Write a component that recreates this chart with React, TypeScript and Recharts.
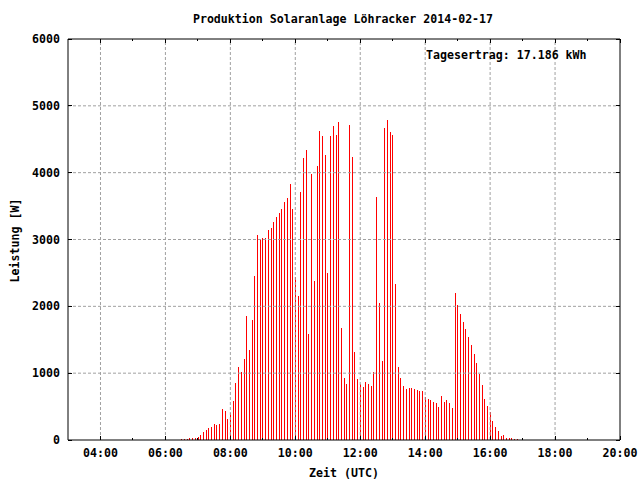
import React from 'react';
import { ComposedChart, Bar, XAxis, YAxis, ReferenceLine, Legend } from 'recharts';

const FONT = '"DejaVu Sans Mono", "Liberation Mono", monospace';
const FONT_SIZE = 11.6;

const chartTitle = 'Produktion Solaranlage Löhracker 2014-02-17';
const yieldLabel = 'Tagesertrag: 17.186 kWh';
const xAxisTitle = 'Zeit (UTC)';
const yAxisTitle = 'Leistung [W]';

const sampleTimes = [
  '06:30', '06:35', '06:40', '06:45', '06:50', '06:55',
  '07:00', '07:05', '07:10', '07:15', '07:20', '07:25', '07:30', '07:35', '07:40', '07:45', '07:50', '07:55',
  '08:00', '08:05', '08:10', '08:15', '08:20', '08:25', '08:30', '08:35', '08:40', '08:45', '08:50', '08:55',
  '09:00', '09:05', '09:10', '09:15', '09:20', '09:25', '09:30', '09:35', '09:40', '09:45', '09:50', '09:55',
  '10:00', '10:05', '10:10', '10:15', '10:20', '10:25', '10:30', '10:35', '10:40', '10:45', '10:50', '10:55',
  '11:00', '11:05', '11:10', '11:15', '11:20', '11:25', '11:30', '11:35', '11:40', '11:45', '11:50', '11:55',
  '12:00', '12:05', '12:10', '12:15', '12:20', '12:25', '12:30', '12:35', '12:40', '12:45', '12:50', '12:55',
  '13:00', '13:05', '13:10', '13:15', '13:20', '13:25', '13:30', '13:35', '13:40', '13:45', '13:50', '13:55',
  '14:00', '14:05', '14:10', '14:15', '14:20', '14:25', '14:30', '14:35', '14:40', '14:45', '14:50', '14:55',
  '15:00', '15:05', '15:10', '15:15', '15:20', '15:25', '15:30', '15:35', '15:40', '15:45', '15:50', '15:55',
  '16:00', '16:05', '16:10', '16:15', '16:20', '16:25', '16:30', '16:35', '16:40', '16:45', '16:50',
];

const powerW = [
  20, 20, 20, 30, 30, 30,
  45, 75, 120, 150, 180, 195, 240, 225, 240, 465, 435, 315,
  405, 585, 855, 1095, 1020, 1215, 1860, 1350, 1800, 2460, 3060, 3000,
  3015, 3015, 3135, 3165, 3255, 3330, 3390, 3450, 3555, 3615, 3825, 3450,
  2445, 2160, 3705, 4215, 4335, 1590, 3975, 2385, 4095, 4620, 4545, 4260,
  2505, 4545, 4695, 4560, 4755, 1680, 930, 840, 4710, 4230, 1320, 915,
  840, 795, 870, 840, 810, 1020, 3630, 2055, 1185, 4665, 4785, 4605,
  4560, 2340, 1095, 930, 810, 765, 780, 780, 765, 750, 735, 735,
  645, 615, 600, 570, 555, 495, 660, 570, 600, 555, 480, 2205,
  2025, 1890, 1770, 1665, 1545, 1425, 1290, 1155, 990, 825, 615, 510,
  420, 285, 195, 135, 60, 75, 30, 30, 30, 15, 15,
];

const hourTicks = [4, 5, 6, 7, 8, 9, 10, 11, 12, 13, 14, 15, 16, 17, 18, 19, 20];
const majorHours = [4, 6, 8, 10, 12, 14, 16, 18, 20];
const gridHours = [4, 6, 8, 10, 12, 14, 16, 18];
const powerTicks = [0, 1000, 2000, 3000, 4000, 5000, 6000];
const gridPowers = [1000, 2000, 3000, 4000, 5000];
const xDomain = [3, 20];
const yDomain = [0, 6000];

const toHours = (t: string) => {
  const [h, m] = t.split(':').map(Number);
  return h + m / 60;
};
const fmtHour = (h: number) => `${String(h).padStart(2, '0')}:00`;

const data = sampleTimes.map((t, i) => ({ hour: toHours(t), power: powerW[i] }));

const textStyle = {
  fontFamily: FONT,
  fontSize: FONT_SIZE,
  fontWeight: 'bold' as const,
  fill: '#000',
};

const BOTTOM_MARGIN = 9;
const LEFT_MARGIN = 8;

const crisp = (v: number) => Math.floor(v) + 0.5;

const BottomTick = (props: any) => {
  const { x, y, payload } = props;
  const major = majorHours.includes(payload.value);
  const axisY = y - BOTTOM_MARGIN;
  const px = crisp(x);
  return (
    <g>
      <line x1={px} x2={px} y1={axisY} y2={axisY - (major ? 4 : 2)} stroke="#000" strokeWidth={1} />
      {major && (
        <text x={x} y={y} dy="0.71em" textAnchor="middle" style={textStyle}>
          {fmtHour(payload.value)}
        </text>
      )}
    </g>
  );
};

const TopTick = (props: any) => {
  const { x, y, payload } = props;
  const major = majorHours.includes(payload.value);
  const px = crisp(x);
  return <line x1={px} x2={px} y1={y} y2={y + (major ? 4 : 2)} stroke="#000" strokeWidth={1} />;
};

const LeftTick = (props: any) => {
  const { x, y, payload } = props;
  const axisX = x + LEFT_MARGIN;
  const py = crisp(y);
  return (
    <g>
      <line x1={axisX} x2={axisX + 4} y1={py} y2={py} stroke="#000" strokeWidth={1} />
      <text x={x} y={y} dy="0.355em" textAnchor="end" style={textStyle}>
        {payload.value}
      </text>
    </g>
  );
};

const RightTick = (props: any) => {
  const { x, y } = props;
  const py = crisp(y);
  return <line x1={x} x2={x - 4} y1={py} y2={py} stroke="#000" strokeWidth={1} />;
};

const Impulse = (props: any) => {
  const { x, y, width, height } = props;
  if (height == null || !(height > 0)) return null;
  const cx = Math.floor(x + width / 2);
  const top = Math.round(y);
  const bottom = Math.round(y + height);
  return <rect x={cx} y={top} width={1} height={Math.max(1, bottom - top)} fill="#ff0000" />;
};

const YLabel = (props: any) => {
  const vb = props.viewBox || { x: 0, y: 39, width: 68, height: 401 };
  const lx = vb.x + 18.5;
  const ly = vb.y + vb.height / 2 + 1;
  return (
    <text x={lx} y={ly} textAnchor="middle" transform={`rotate(-90, ${lx}, ${ly})`} style={textStyle}>
      {yAxisTitle}
    </text>
  );
};

const TitleLabel = (props: any) => {
  const vb = props.viewBox || { x: 68, y: 0, width: 552, height: 39 };
  return (
    <text x={vb.x + vb.width / 2 - 1} y={23} textAnchor="middle" style={textStyle}>
      {chartTitle}
    </text>
  );
};

const KeyContent = () => (
  <div
    style={{
      fontFamily: FONT,
      fontSize: FONT_SIZE,
      fontWeight: 'bold',
      lineHeight: '12px',
      color: '#000',
      whiteSpace: 'nowrap',
    }}
  >
    {yieldLabel}
  </div>
);

export default function App() {
  return (
    <div style={{ position: 'absolute', left: 0, top: 0, width: 640, height: 480, background: '#fff' }}>
      <ComposedChart width={640} height={480} data={data} margin={{ top: 0, right: 0, bottom: 0, left: 0 }}>
        <XAxis
          xAxisId="b"
          dataKey="hour"
          type="number"
          orientation="bottom"
          domain={xDomain}
          ticks={hourTicks}
          interval={0}
          allowDataOverflow
          height={40}
          tickSize={0}
          tickMargin={BOTTOM_MARGIN}
          tick={<BottomTick />}
          axisLine={{ stroke: '#000', strokeWidth: 1 }}
          label={{ value: xAxisTitle, position: 'insideBottom', offset: 3, style: textStyle }}
        />
        <XAxis
          xAxisId="t"
          dataKey="hour"
          type="number"
          orientation="top"
          domain={xDomain}
          ticks={hourTicks}
          interval={0}
          allowDataOverflow
          height={39}
          tickSize={0}
          tickMargin={0}
          tick={<TopTick />}
          axisLine={{ stroke: '#000', strokeWidth: 1 }}
          label={<TitleLabel />}
        />
        <YAxis
          yAxisId="l"
          type="number"
          orientation="left"
          domain={yDomain}
          ticks={powerTicks}
          interval={0}
          allowDataOverflow
          width={68}
          tickSize={0}
          tickMargin={LEFT_MARGIN}
          tick={<LeftTick />}
          axisLine={{ stroke: '#000', strokeWidth: 1 }}
          label={<YLabel />}
        />
        <YAxis
          yAxisId="r"
          dataKey="power"
          type="number"
          orientation="right"
          domain={yDomain}
          ticks={powerTicks}
          interval={0}
          allowDataOverflow
          width={20}
          tickSize={0}
          tickMargin={0}
          tick={<RightTick />}
          axisLine={{ stroke: '#000', strokeWidth: 1 }}
        />
        {gridHours.map((h) => (
          <ReferenceLine
            key={`gx${h}`}
            xAxisId="b"
            yAxisId="l"
            x={h}
            stroke="#a0a0a0"
            strokeDasharray="3 2"
          />
        ))}
        {gridPowers.map((p) => (
          <ReferenceLine
            key={`gy${p}`}
            xAxisId="b"
            yAxisId="l"
            y={p}
            stroke="#a0a0a0"
            strokeDasharray="3 2"
          />
        ))}
        <Bar
          xAxisId="b"
          yAxisId="l"
          dataKey="power"
          name={yieldLabel}
          barSize={1}
          fill="#ff0000"
          shape={<Impulse />}
          isAnimationActive={false}
        />
        <Legend
          layout="vertical"
          align="center"
          verticalAlign="middle"
          content={<KeyContent />}
          wrapperStyle={{ position: 'absolute', left: 426, top: 49, width: 170, height: 14 }}
        />
      </ComposedChart>
    </div>
  );
}
